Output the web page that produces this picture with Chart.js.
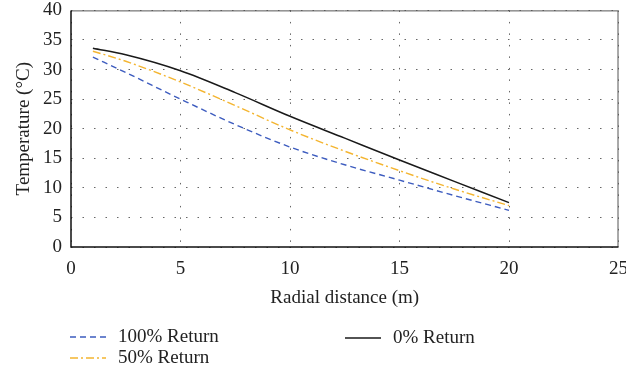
<!DOCTYPE html>
<html>
<head>
<meta charset="utf-8">
<script src="https://cdn.jsdelivr.net/npm/chart.js@4/dist/chart.umd.min.js"></script>
<style>
  html, body { margin: 0; padding: 0; background: #fff; overflow: hidden; }
  #wrap { width: 626px; height: 370px; overflow: hidden; }
  #myChart { display: block; margin-top: -10px; }
</style>
</head>
<body>
<div id="wrap"><canvas id="myChart" width="639" height="380"></canvas></div>
<script>
// radial distance (m)
const distance = [1, 2.5, 5, 7.5, 10, 12.5, 15, 17.5, 20];

// temperature (°C) for each return ratio
const return100 = [32.1, 29.5, 25.0, 20.7, 16.9, 13.9, 11.3, 8.7, 6.2];
const return50 = [33.1, 31.4, 27.9, 23.9, 19.8, 16.2, 12.9, 9.8, 7.0];
const return0 = [33.6, 32.5, 29.8, 26.1, 22.1, 18.4, 14.7, 11.1, 7.5];

const seriesLabels = ['100% Return', '50% Return', '0% Return'];

const xTicks = [0, 5, 10, 15, 20, 25];
const yTicks = [0, 5, 10, 15, 20, 25, 30, 35, 40];

const font = "'Liberation Serif', 'DejaVu Serif', serif";

const toPoints = (ys) => distance.map((x, i) => ({ x: x, y: ys[i] }));

// legend drawn below the plot in two columns (canvas is shifted up 10px)
const bottomLegend = {
  id: 'bottomLegend',
  afterDraw(chart) {
    const ctx = chart.ctx;
    const spots = [
      { x: 70, y: 347 },
      { x: 70, y: 368 },
      { x: 345, y: 348 }
    ];
    chart.data.datasets.forEach((ds, i) => {
      const s = spots[i];
      ctx.save();
      ctx.strokeStyle = ds.borderColor;
      ctx.lineWidth = 1.3;
      ctx.setLineDash(ds.borderDash || []);
      ctx.beginPath();
      ctx.moveTo(s.x, s.y);
      ctx.lineTo(s.x + 36, s.y);
      ctx.stroke();
      ctx.setLineDash([]);
      ctx.fillStyle = '#222';
      ctx.font = '19px ' + font;
      ctx.textBaseline = 'middle';
      ctx.fillText(ds.label, s.x + 48, s.y);
      ctx.restore();
    });
  }
};

// box around the plot area
const plotBox = {
  id: 'plotBox',
  afterDatasetsDraw(chart) {
    const a = chart.chartArea;
    const ctx = chart.ctx;
    ctx.save();
    ctx.strokeStyle = '#555';
    ctx.lineWidth = 1;
    ctx.beginPath();
    ctx.moveTo(a.left, a.top + 0.5);
    ctx.lineTo(a.right - 0.5, a.top + 0.5);
    ctx.lineTo(a.right - 0.5, a.bottom);
    ctx.stroke();
    ctx.strokeStyle = '#111';
    ctx.lineWidth = 1.5;
    ctx.beginPath();
    ctx.moveTo(a.left, a.top);
    ctx.lineTo(a.left, a.bottom);
    ctx.lineTo(a.right, a.bottom);
    ctx.stroke();
    ctx.restore();
  }
};

const data = {
  datasets: [
    {
      label: seriesLabels[0],
      data: toPoints(return100),
      borderColor: '#3d5cbf',
      borderDash: [6, 4],
      borderWidth: 1.4
    },
    {
      label: seriesLabels[1],
      data: toPoints(return50),
      borderColor: '#f4b530',
      borderDash: [8, 3, 2, 3],
      borderWidth: 1.4
    },
    {
      label: seriesLabels[2],
      data: toPoints(return0),
      borderColor: '#1a1a1a',
      borderWidth: 1.5
    }
  ]
};

const config = {
  type: 'line',
  data: data,
  options: {
    responsive: false,
    animation: false,
    layout: {
      padding: { left: 13, top: 0, right: 0, bottom: 61 }
    },
    elements: {
      point: { radius: 0 },
      line: { cubicInterpolationMode: 'monotone', fill: false }
    },
    scales: {
      x: {
        type: 'linear',
        min: 0,
        max: 25,
        afterBuildTicks: (s) => { s.ticks = xTicks.map(v => ({ value: v })); },
        afterFit: (s) => { s.height = 380 - 257 - 61; },
        ticks: {
          color: '#222',
          font: { family: font, size: 19 },
          padding: 11,
          maxRotation: 0
        },
        grid: {
          color: '#666',
          lineWidth: 1,
          drawTicks: false
        },
        border: { display: false, dash: [1.5, 10] },
        title: {
          display: true,
          text: 'Radial distance (m)',
          color: '#222',
          font: { family: font, size: 19 },
          padding: { top: 4, bottom: 0 }
        }
      },
      y: {
        min: 0,
        max: 40,
        afterBuildTicks: (s) => { s.ticks = yTicks.map(v => ({ value: v })); },
        afterFit: (s) => { s.width = 58; },
        ticks: {
          color: '#222',
          font: { family: font, size: 19 },
          padding: 9
        },
        grid: {
          color: '#666',
          lineWidth: 1,
          drawTicks: false
        },
        border: { display: false, dash: [1.5, 10] },
        title: {
          display: true,
          text: 'Temperature (°C)',
          color: '#222',
          font: { family: font, size: 19 },
          padding: { top: 0, bottom: 2 }
        }
      }
    },
    plugins: {
      legend: { display: false },
      tooltip: { enabled: false }
    }
  },
  plugins: [plotBox, bottomLegend]
};

function start(){
  var ctx = document.getElementById("myChart").getContext("2d");
  var lineChart = new Chart(ctx, config);
}

window.onload = start;
</script>
</body>
</html>
